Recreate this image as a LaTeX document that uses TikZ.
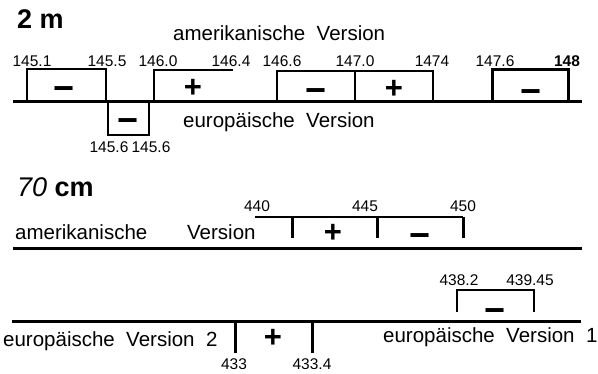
\documentclass[tikz,border=0pt]{standalone}
\usepackage{fontspec}
\setmainfont{Liberation Sans}
\usetikzlibrary{positioning}

\tikzset{
  axis/.style={line width=3pt},
  band/.style={line width=2pt},
  tick/.style={line width=3pt},
  freq/.style={font=\fontsize{15.5}{17}\selectfont, inner sep=0pt, anchor=base},
  caption/.style={font=\fontsize{20.5}{24}\selectfont, inner sep=0pt, anchor=base west},
  heading/.style={font=\fontsize{27}{30}\selectfont\bfseries, inner sep=0pt, anchor=base west},
  plussign/.style={font=\fontsize{31}{33}\selectfont\bfseries, inner sep=0pt, yshift=-1pt},
  minussign/.style={font=\fontsize{36}{38}\selectfont\bfseries, inner sep=0pt, yshift=-9pt},
}

\begin{document}
\begin{tikzpicture}[x=1pt, y=-1pt]
  \useasboundingbox (0,0) rectangle (598,374);

  % 2 m
  \node[heading] (head2m) at (17,29) {2 m};
  \node[caption] (amA) at (173,41) {amerikanische\ \ Version};
  \node[caption] (euA) at (183,128) {europäische\ \ Version};
  \coordinate (axA0) at (13,102);
  \coordinate (axA1) at (582,102);
  \draw[axis] (axA0) -- (axA1);

  \draw[band] (27,102) rectangle (106,69);
  \draw[band] (108,102) rectangle (149,135);
  \draw[band] (154,102) |- (233,70);
  \draw[band] (277,102) |- (433,71) -- (433,102);
  \draw[band] (355,71) -- (355,102);
  \draw[tick] (492,102) rectangle (568,70);

  \node[minussign] (sA1) at (64.5,85) {−};
  \node[minussign] (sA2) at (128,117) {−};
  \node[plussign]  (sA3) at (193,87) {+};
  \node[minussign] (sA4) at (316,87) {−};
  \node[plussign]  (sA5) at (394,88) {+};
  \node[minussign] (sA6) at (531,88) {−};

  \node[freq] (fA1) at (32,67) {145.1};
  \node[freq] (fA2) at (107,67) {145.5};
  \node[freq] (fA3) at (158,67) {146.0};
  \node[freq] (fA4) at (231,67) {146.4};
  \node[freq] (fA5) at (282,67) {146.6};
  \node[freq] (fA6) at (355,67) {147.0};
  \node[freq] (fA7) at (432,67) {1474};
  \node[freq] (fA8) at (495,67) {147.6};
  \node[freq, font=\fontsize{15.5}{17}\selectfont\bfseries] (fA9) at (567,67) {148};
  \node[freq] (fA10) at (109,153) {145.6};
  \node[freq] (fA11) at (151,153) {145.6};

  % 70 cm, amerikanische Version
  \node[heading] (head70) at (17,197) {{\mdseries\itshape 70} cm};
  \node[caption] (amB1) at (15,240) {amerikanische};
  \node[caption] (amB2) at (187,240) {Version};
  \coordinate (axB0) at (13,249);
  \coordinate (axB1) at (582,249);
  \draw[axis] (axB0) -- (axB1);

  \draw[line width=1.5pt] (255,217) -- (463,217);
  \foreach \x in {292,377,463}
    \draw[tick] (\x,217) -- (\x,238);
  \node[plussign]  (sB1) at (333,232) {+};
  \node[minussign] (sB2) at (420,232) {−};

  \node[freq] (fB1) at (257,212) {440};
  \node[freq] (fB2) at (365,212) {445};
  \node[freq] (fB3) at (463,212) {450};

  % 70 cm, europäische Version 1 und 2
  \draw[band] (457,312) |- (534,290) -- (534,312);
  \node[minussign] (sC1) at (495,307) {−};
  \node[freq] (fC1) at (459,286) {438.2};
  \node[freq] (fC2) at (530,286) {439.45};

  \coordinate (axC0) at (12,321.5);
  \coordinate (axC1) at (581,321.5);
  \draw[axis] (axC0) -- (axC1);

  \foreach \x in {235,312}
    \draw[tick] (\x,322) -- (\x,353);
  \node[plussign] (sC2) at (273,337) {+};
  \node[freq] (fC3) at (234,370) {433};
  \node[freq] (fC4) at (312,370) {433.4};

  \node[caption] (euB2) at (3,347) {europäische\ \ Version\ \ 2};
  \node[caption] (euB1) at (383,343) {europäische\ \ Version\ \ 1};
\end{tikzpicture}
\end{document}
